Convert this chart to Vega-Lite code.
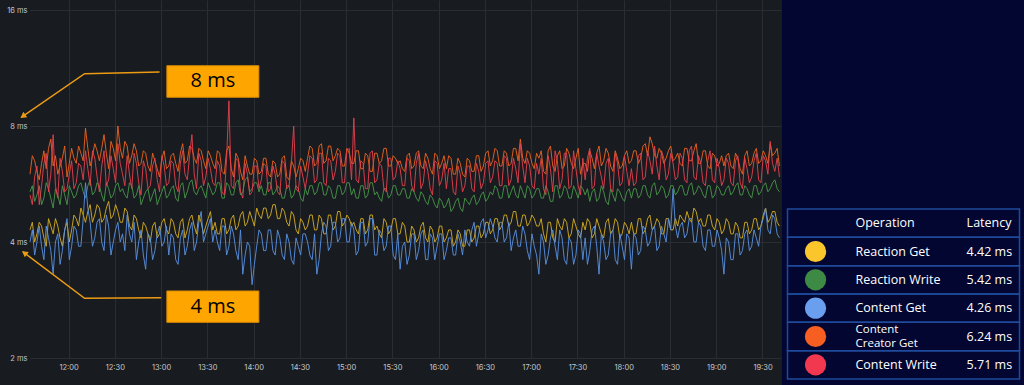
{
  "$schema": "https://vega.github.io/schema/vega-lite/v6.json",
  "padding": 0,
  "background": "#181b1f",
  "spacing": 0,
  "config": {"view": {"stroke": null}, "font": "Inter"},
  "resolve": {"scale": {"color": "independent"}},
  "hconcat": [
    {
      "width": 751,
      "height": 358,
      "layer": [
        {
          "data": {
            "values": [
              {"t":"1970-01-01T11:35Z","rg":4.3,"rw":5.4,"cg":4.0,"ccg":6.0,"cw":5.3},
              {"t":"1970-01-01T11:38Z","rg":4.0,"rw":5.1,"cg":3.7,"ccg":6.5,"cw":5.9},
              {"t":"1970-01-01T11:41Z","rg":4.5,"rw":5.6,"cg":4.4,"ccg":5.8,"cw":5.0},
              {"t":"1970-01-01T11:44Z","rg":4.1,"rw":5.2,"cg":3.6,"ccg":6.9,"cw":6.4},
              {"t":"1970-01-01T11:47Z","rg":4.6,"rw":5.5,"cg":4.1,"ccg":7.0,"cw":5.4},
              {"t":"1970-01-01T11:50Z","rg":4.2,"rw":4.9,"cg":3.3,"ccg":6.3,"cw":7.6},
              {"t":"1970-01-01T11:53Z","rg":4.4,"rw":5.3,"cg":4.2,"ccg":6.0,"cw":5.2},
              {"t":"1970-01-01T11:56Z","rg":3.9,"rw":5.6,"cg":3.8,"ccg":6.6,"cw":6.1},
              {"t":"1970-01-01T11:59Z","rg":4.5,"rw":5.0,"cg":4.6,"ccg":5.9,"cw":5.5},
              {"t":"1970-01-01T12:02Z","rg":4.3,"rw":5.4,"cg":3.9,"ccg":7.0,"cw":6.5},
              {"t":"1970-01-01T12:05Z","rg":4.6,"rw":5.3,"cg":4.3,"ccg":6.4,"cw":5.7},
              {"t":"1970-01-01T12:08Z","rg":4.9,"rw":5.7,"cg":3.9,"ccg":6.8,"cw":6.3},
              {"t":"1970-01-01T12:11Z","rg":4.5,"rw":5.2,"cg":5.7,"ccg":7.9,"cw":6.9},
              {"t":"1970-01-01T12:14Z","rg":5.0,"rw":5.8,"cg":4.5,"ccg":6.3,"cw":5.6},
              {"t":"1970-01-01T12:17Z","rg":4.7,"rw":5.4,"cg":4.1,"ccg":7.2,"cw":6.6},
              {"t":"1970-01-01T12:20Z","rg":4.9,"rw":5.6,"cg":4.6,"ccg":6.5,"cw":5.4},
              {"t":"1970-01-01T12:23Z","rg":4.6,"rw":5.1,"cg":3.8,"ccg":7.6,"cw":6.9},
              {"t":"1970-01-01T12:26Z","rg":5.1,"rw":5.5,"cg":4.4,"ccg":6.2,"cw":5.8},
              {"t":"1970-01-01T12:29Z","rg":4.7,"rw":5.3,"cg":4.0,"ccg":7.0,"cw":6.2},
              {"t":"1970-01-01T12:32Z","rg":4.8,"rw":5.7,"cg":4.5,"ccg":8.0,"cw":7.2},
              {"t":"1970-01-01T12:35Z","rg":4.5,"rw":5.5,"cg":4.2,"ccg":6.6,"cw":6.0},
              {"t":"1970-01-01T12:38Z","rg":4.8,"rw":5.2,"cg":4.7,"ccg":7.1,"cw":6.7},
              {"t":"1970-01-01T12:41Z","rg":4.3,"rw":5.6,"cg":4.0,"ccg":6.7,"cw":5.5},
              {"t":"1970-01-01T12:44Z","rg":4.6,"rw":5.3,"cg":3.6,"ccg":6.9,"cw":6.4},
              {"t":"1970-01-01T12:47Z","rg":4.1,"rw":5.0,"cg":4.3,"ccg":6.4,"cw":5.3},
              {"t":"1970-01-01T12:50Z","rg":4.4,"rw":5.4,"cg":3.4,"ccg":6.8,"cw":6.2},
              {"t":"1970-01-01T12:53Z","rg":4.0,"rw":5.1,"cg":4.1,"ccg":6.1,"cw":5.6},
              {"t":"1970-01-01T12:56Z","rg":4.5,"rw":5.5,"cg":3.8,"ccg":6.5,"cw":6.6},
              {"t":"1970-01-01T12:59Z","rg":4.2,"rw":5.2,"cg":4.4,"ccg":5.9,"cw":5.4},
              {"t":"1970-01-01T13:02Z","rg":4.6,"rw":5.6,"cg":4.0,"ccg":6.9,"cw":6.3},
              {"t":"1970-01-01T13:05Z","rg":4.2,"rw":5.3,"cg":3.7,"ccg":6.3,"cw":5.7},
              {"t":"1970-01-01T13:08Z","rg":4.5,"rw":5.6,"cg":4.1,"ccg":6.8,"cw":6.4},
              {"t":"1970-01-01T13:11Z","rg":4.1,"rw":5.1,"cg":3.5,"ccg":6.1,"cw":5.4},
              {"t":"1970-01-01T13:14Z","rg":4.6,"rw":5.7,"cg":4.3,"ccg":7.2,"cw":6.9},
              {"t":"1970-01-01T13:17Z","rg":4.3,"rw":5.4,"cg":3.9,"ccg":6.5,"cw":5.8},
              {"t":"1970-01-01T13:20Z","rg":4.7,"rw":5.8,"cg":4.5,"ccg":7.0,"cw":7.6},
              {"t":"1970-01-01T13:23Z","rg":4.2,"rw":5.3,"cg":4.0,"ccg":6.4,"cw":5.5},
              {"t":"1970-01-01T13:26Z","rg":4.5,"rw":5.6,"cg":4.8,"ccg":6.9,"cw":6.5},
              {"t":"1970-01-01T13:29Z","rg":4.4,"rw":5.2,"cg":4.2,"ccg":6.2,"cw":5.9},
              {"t":"1970-01-01T13:32Z","rg":4.8,"rw":5.5,"cg":4.6,"ccg":6.7,"cw":6.2},
              {"t":"1970-01-01T13:35Z","rg":4.5,"rw":5.4,"cg":4.3,"ccg":6.2,"cw":5.6},
              {"t":"1970-01-01T13:38Z","rg":4.2,"rw":5.7,"cg":3.8,"ccg":6.8,"cw":6.3},
              {"t":"1970-01-01T13:41Z","rg":4.6,"rw":5.2,"cg":4.4,"ccg":6.0,"cw":5.3},
              {"t":"1970-01-01T13:44Z","rg":4.3,"rw":5.6,"cg":3.9,"ccg":7.1,"cw":9.3},
              {"t":"1970-01-01T13:47Z","rg":4.7,"rw":5.3,"cg":4.2,"ccg":5.9,"cw":5.5},
              {"t":"1970-01-01T13:50Z","rg":4.4,"rw":5.8,"cg":3.6,"ccg":6.6,"cw":6.5},
              {"t":"1970-01-01T13:53Z","rg":4.8,"rw":5.4,"cg":3.3,"ccg":5.8,"cw":5.2},
              {"t":"1970-01-01T13:56Z","rg":4.5,"rw":5.9,"cg":4.0,"ccg":6.3,"cw":6.0},
              {"t":"1970-01-01T13:59Z","rg":4.6,"rw":5.5,"cg":3.1,"ccg":6.0,"cw":5.4},
              {"t":"1970-01-01T14:02Z","rg":4.9,"rw":5.7,"cg":3.9,"ccg":6.5,"cw":6.3},
              {"t":"1970-01-01T14:05Z","rg":4.6,"rw":5.6,"cg":4.2,"ccg":6.1,"cw":5.8},
              {"t":"1970-01-01T14:08Z","rg":4.9,"rw":5.3,"cg":3.8,"ccg":6.6,"cw":6.3},
              {"t":"1970-01-01T14:11Z","rg":4.7,"rw":5.7,"cg":4.3,"ccg":5.9,"cw":5.5},
              {"t":"1970-01-01T14:14Z","rg":5.0,"rw":5.4,"cg":3.7,"ccg":6.4,"cw":6.0},
              {"t":"1970-01-01T14:17Z","rg":4.6,"rw":5.5,"cg":4.1,"ccg":6.0,"cw":5.3},
              {"t":"1970-01-01T14:20Z","rg":4.8,"rw":5.2,"cg":3.6,"ccg":6.7,"cw":6.4},
              {"t":"1970-01-01T14:23Z","rg":4.4,"rw":5.6,"cg":4.0,"ccg":5.8,"cw":5.6},
              {"t":"1970-01-01T14:26Z","rg":4.7,"rw":5.3,"cg":3.5,"ccg":6.3,"cw":8.0},
              {"t":"1970-01-01T14:29Z","rg":4.2,"rw":5.5,"cg":3.9,"ccg":6.2,"cw":5.4},
              {"t":"1970-01-01T14:32Z","rg":4.5,"rw":5.1,"cg":4.2,"ccg":6.5,"cw":5.9},
              {"t":"1970-01-01T14:35Z","rg":4.4,"rw":5.3,"cg":4.0,"ccg":6.6,"cw":6.0},
              {"t":"1970-01-01T14:38Z","rg":4.7,"rw":5.6,"cg":3.6,"ccg":7.0,"cw":6.6},
              {"t":"1970-01-01T14:41Z","rg":4.3,"rw":5.4,"cg":3.3,"ccg":6.4,"cw":5.8},
              {"t":"1970-01-01T14:44Z","rg":4.6,"rw":5.7,"cg":4.2,"ccg":7.2,"cw":6.8},
              {"t":"1970-01-01T14:47Z","rg":4.2,"rw":5.3,"cg":4.4,"ccg":6.5,"cw":5.6},
              {"t":"1970-01-01T14:50Z","rg":4.7,"rw":5.5,"cg":3.9,"ccg":7.1,"cw":6.5},
              {"t":"1970-01-01T14:53Z","rg":4.4,"rw":5.2,"cg":4.5,"ccg":6.7,"cw":6.1},
              {"t":"1970-01-01T14:56Z","rg":4.8,"rw":5.6,"cg":4.1,"ccg":6.9,"cw":6.7},
              {"t":"1970-01-01T14:59Z","rg":4.5,"rw":5.4,"cg":4.6,"ccg":6.3,"cw":5.7},
              {"t":"1970-01-01T15:02Z","rg":4.6,"rw":5.7,"cg":4.0,"ccg":6.8,"cw":7.0},
              {"t":"1970-01-01T15:05Z","rg":4.5,"rw":5.5,"cg":4.3,"ccg":6.4,"cw":8.4},
              {"t":"1970-01-01T15:08Z","rg":4.2,"rw":5.2,"cg":3.8,"ccg":6.9,"cw":5.7},
              {"t":"1970-01-01T15:11Z","rg":4.6,"rw":5.6,"cg":4.5,"ccg":6.2,"cw":6.4},
              {"t":"1970-01-01T15:14Z","rg":4.3,"rw":5.3,"cg":4.0,"ccg":6.7,"cw":5.5},
              {"t":"1970-01-01T15:17Z","rg":4.7,"rw":5.7,"cg":4.6,"ccg":6.1,"cw":6.9},
              {"t":"1970-01-01T15:20Z","rg":4.4,"rw":5.4,"cg":3.7,"ccg":6.8,"cw":5.8},
              {"t":"1970-01-01T15:23Z","rg":4.1,"rw":5.1,"cg":4.2,"ccg":6.5,"cw":6.3},
              {"t":"1970-01-01T15:26Z","rg":4.5,"rw":5.5,"cg":3.9,"ccg":7.0,"cw":5.4},
              {"t":"1970-01-01T15:29Z","rg":4.3,"rw":5.3,"cg":4.4,"ccg":6.3,"cw":6.6},
              {"t":"1970-01-01T15:32Z","rg":4.6,"rw":5.6,"cg":3.6,"ccg":6.6,"cw":5.9},
              {"t":"1970-01-01T15:35Z","rg":4.2,"rw":5.3,"cg":3.4,"ccg":6.5,"cw":6.2},
              {"t":"1970-01-01T15:38Z","rg":4.4,"rw":5.5,"cg":4.0,"ccg":6.1,"cw":5.6},
              {"t":"1970-01-01T15:41Z","rg":4.0,"rw":5.2,"cg":3.7,"ccg":6.8,"cw":6.5},
              {"t":"1970-01-01T15:44Z","rg":4.3,"rw":5.4,"cg":4.2,"ccg":6.3,"cw":5.4},
              {"t":"1970-01-01T15:47Z","rg":4.1,"rw":5.1,"cg":3.8,"ccg":6.9,"cw":6.8},
              {"t":"1970-01-01T15:50Z","rg":4.5,"rw":5.3,"cg":4.3,"ccg":6.2,"cw":5.7},
              {"t":"1970-01-01T15:53Z","rg":4.0,"rw":5.0,"cg":3.6,"ccg":6.6,"cw":6.1},
              {"t":"1970-01-01T15:56Z","rg":4.3,"rw":5.2,"cg":4.1,"ccg":6.0,"cw":5.3},
              {"t":"1970-01-01T15:59Z","rg":4.1,"rw":4.9,"cg":3.9,"ccg":6.7,"cw":6.4},
              {"t":"1970-01-01T16:02Z","rg":4.4,"rw":5.1,"cg":4.2,"ccg":6.4,"cw":5.8},
              {"t":"1970-01-01T16:05Z","rg":4.1,"rw":5.0,"cg":3.8,"ccg":6.2,"cw":5.5},
              {"t":"1970-01-01T16:08Z","rg":4.3,"rw":4.8,"cg":4.1,"ccg":6.6,"cw":6.2},
              {"t":"1970-01-01T16:11Z","rg":4.0,"rw":5.1,"cg":3.7,"ccg":6.0,"cw":5.3},
              {"t":"1970-01-01T16:14Z","rg":4.2,"rw":4.9,"cg":4.0,"ccg":6.4,"cw":6.0},
              {"t":"1970-01-01T16:17Z","rg":3.9,"rw":5.2,"cg":4.3,"ccg":5.9,"cw":5.6},
              {"t":"1970-01-01T16:20Z","rg":4.3,"rw":5.0,"cg":3.9,"ccg":6.5,"cw":6.3},
              {"t":"1970-01-01T16:23Z","rg":4.1,"rw":5.3,"cg":4.5,"ccg":6.1,"cw":5.4},
              {"t":"1970-01-01T16:26Z","rg":4.4,"rw":5.1,"cg":4.2,"ccg":6.7,"cw":6.1},
              {"t":"1970-01-01T16:29Z","rg":4.2,"rw":5.4,"cg":4.6,"ccg":6.3,"cw":5.7},
              {"t":"1970-01-01T16:32Z","rg":4.5,"rw":5.2,"cg":4.3,"ccg":6.9,"cw":6.5},
              {"t":"1970-01-01T16:35Z","rg":4.3,"rw":5.3,"cg":4.4,"ccg":6.5,"cw":5.9},
              {"t":"1970-01-01T16:38Z","rg":4.6,"rw":5.5,"cg":4.0,"ccg":6.9,"cw":6.4},
              {"t":"1970-01-01T16:41Z","rg":4.4,"rw":5.2,"cg":4.5,"ccg":6.3,"cw":5.6},
              {"t":"1970-01-01T16:44Z","rg":4.7,"rw":5.6,"cg":4.1,"ccg":6.8,"cw":6.6},
              {"t":"1970-01-01T16:47Z","rg":4.5,"rw":5.4,"cg":3.8,"ccg":6.4,"cw":5.8},
              {"t":"1970-01-01T16:50Z","rg":4.8,"rw":5.3,"cg":4.3,"ccg":7.0,"cw":6.2},
              {"t":"1970-01-01T16:53Z","rg":4.4,"rw":5.6,"cg":3.9,"ccg":7.4,"cw":7.2},
              {"t":"1970-01-01T16:56Z","rg":4.7,"rw":5.2,"cg":4.2,"ccg":6.4,"cw":5.7},
              {"t":"1970-01-01T16:59Z","rg":4.5,"rw":5.5,"cg":3.6,"ccg":6.8,"cw":6.3},
              {"t":"1970-01-01T17:02Z","rg":4.6,"rw":5.3,"cg":3.9,"ccg":6.2,"cw":5.5},
              {"t":"1970-01-01T17:05Z","rg":4.4,"rw":5.5,"cg":3.3,"ccg":6.6,"cw":6.0},
              {"t":"1970-01-01T17:08Z","rg":4.2,"rw":5.2,"cg":4.0,"ccg":6.1,"cw":5.5},
              {"t":"1970-01-01T17:11Z","rg":4.5,"rw":5.4,"cg":3.7,"ccg":6.9,"cw":6.7},
              {"t":"1970-01-01T17:14Z","rg":4.1,"rw":5.1,"cg":4.3,"ccg":6.3,"cw":5.4},
              {"t":"1970-01-01T17:17Z","rg":4.6,"rw":5.6,"cg":3.6,"ccg":6.7,"cw":6.5},
              {"t":"1970-01-01T17:20Z","rg":4.3,"rw":5.3,"cg":4.1,"ccg":6.2,"cw":5.8},
              {"t":"1970-01-01T17:23Z","rg":4.5,"rw":5.5,"cg":3.5,"ccg":7.0,"cw":6.8},
              {"t":"1970-01-01T17:26Z","rg":4.2,"rw":5.2,"cg":4.0,"ccg":6.4,"cw":5.6},
              {"t":"1970-01-01T17:29Z","rg":4.4,"rw":5.4,"cg":3.7,"ccg":6.6,"cw":6.2},
              {"t":"1970-01-01T17:32Z","rg":4.1,"rw":5.6,"cg":4.2,"ccg":6.0,"cw":5.3},
              {"t":"1970-01-01T17:35Z","rg":4.3,"rw":5.3,"cg":4.1,"ccg":6.4,"cw":5.8},
              {"t":"1970-01-01T17:38Z","rg":4.5,"rw":5.1,"cg":3.8,"ccg":6.9,"cw":7.0},
              {"t":"1970-01-01T17:41Z","rg":4.2,"rw":5.5,"cg":4.4,"ccg":6.2,"cw":5.6},
              {"t":"1970-01-01T17:44Z","rg":4.4,"rw":5.2,"cg":3.3,"ccg":7.1,"cw":6.3},
              {"t":"1970-01-01T17:47Z","rg":4.1,"rw":5.4,"cg":4.0,"ccg":6.5,"cw":5.5},
              {"t":"1970-01-01T17:50Z","rg":4.6,"rw":5.0,"cg":3.7,"ccg":6.8,"cw":6.6},
              {"t":"1970-01-01T17:53Z","rg":4.3,"rw":5.3,"cg":4.3,"ccg":6.1,"cw":5.4},
              {"t":"1970-01-01T17:56Z","rg":4.5,"rw":5.5,"cg":3.5,"ccg":6.6,"cw":6.4},
              {"t":"1970-01-01T17:59Z","rg":4.2,"rw":5.2,"cg":3.9,"ccg":6.3,"cw":5.7},
              {"t":"1970-01-01T18:02Z","rg":4.4,"rw":5.4,"cg":4.2,"ccg":6.9,"cw":6.1},
              {"t":"1970-01-01T18:05Z","rg":4.5,"rw":5.2,"cg":3.4,"ccg":6.5,"cw":6.2},
              {"t":"1970-01-01T18:08Z","rg":4.2,"rw":5.5,"cg":4.1,"ccg":6.9,"cw":5.7},
              {"t":"1970-01-01T18:11Z","rg":4.6,"rw":5.3,"cg":3.8,"ccg":6.6,"cw":6.8},
              {"t":"1970-01-01T18:14Z","rg":4.3,"rw":5.6,"cg":4.3,"ccg":7.2,"cw":5.9},
              {"t":"1970-01-01T18:17Z","rg":4.7,"rw":5.2,"cg":4.0,"ccg":7.5,"cw":6.5},
              {"t":"1970-01-01T18:20Z","rg":4.4,"rw":5.7,"cg":4.4,"ccg":6.7,"cw":7.1},
              {"t":"1970-01-01T18:23Z","rg":4.5,"rw":5.4,"cg":3.9,"ccg":7.0,"cw":5.8},
              {"t":"1970-01-01T18:26Z","rg":4.2,"rw":5.5,"cg":4.2,"ccg":6.4,"cw":6.6},
              {"t":"1970-01-01T18:29Z","rg":4.6,"rw":5.3,"cg":4.6,"ccg":6.9,"cw":6.0},
              {"t":"1970-01-01T18:32Z","rg":4.3,"rw":5.6,"cg":5.5,"ccg":6.5,"cw":6.4},
              {"t":"1970-01-01T18:35Z","rg":4.4,"rw":5.4,"cg":4.1,"ccg":6.8,"cw":5.9},
              {"t":"1970-01-01T18:38Z","rg":4.6,"rw":5.6,"cg":4.5,"ccg":6.3,"cw":6.6},
              {"t":"1970-01-01T18:41Z","rg":4.8,"rw":5.3,"cg":4.2,"ccg":7.0,"cw":5.7},
              {"t":"1970-01-01T18:44Z","rg":4.5,"rw":5.7,"cg":4.6,"ccg":6.5,"cw":7.1},
              {"t":"1970-01-01T18:47Z","rg":4.8,"rw":5.4,"cg":4.0,"ccg":7.2,"cw":5.8},
              {"t":"1970-01-01T18:50Z","rg":4.6,"rw":5.5,"cg":4.4,"ccg":6.4,"cw":6.4},
              {"t":"1970-01-01T18:53Z","rg":4.4,"rw":5.2,"cg":3.8,"ccg":6.9,"cw":5.6},
              {"t":"1970-01-01T18:56Z","rg":4.7,"rw":5.6,"cg":4.3,"ccg":6.2,"cw":6.9},
              {"t":"1970-01-01T18:59Z","rg":4.3,"rw":5.3,"cg":3.9,"ccg":6.7,"cw":5.7},
              {"t":"1970-01-01T19:02Z","rg":4.5,"rw":5.5,"cg":4.1,"ccg":6.4,"cw":6.2},
              {"t":"1970-01-01T19:05Z","rg":4.3,"rw":5.3,"cg":3.3,"ccg":6.3,"cw":5.8},
              {"t":"1970-01-01T19:08Z","rg":4.5,"rw":5.6,"cg":4.0,"ccg":6.8,"cw":6.4},
              {"t":"1970-01-01T19:11Z","rg":4.2,"rw":5.4,"cg":3.6,"ccg":6.2,"cw":5.6},
              {"t":"1970-01-01T19:14Z","rg":4.4,"rw":5.7,"cg":4.2,"ccg":6.6,"cw":6.7},
              {"t":"1970-01-01T19:17Z","rg":4.1,"rw":5.3,"cg":3.8,"ccg":6.0,"cw":5.5},
              {"t":"1970-01-01T19:20Z","rg":4.5,"rw":5.5,"cg":4.3,"ccg":6.9,"cw":6.2},
              {"t":"1970-01-01T19:23Z","rg":4.3,"rw":5.2,"cg":3.9,"ccg":6.4,"cw":5.9},
              {"t":"1970-01-01T19:26Z","rg":4.6,"rw":5.6,"cg":4.1,"ccg":7.0,"cw":6.8},
              {"t":"1970-01-01T19:29Z","rg":4.4,"rw":5.4,"cg":4.4,"ccg":6.5,"cw":5.7},
              {"t":"1970-01-01T19:32Z","rg":4.9,"rw":5.7,"cg":4.9,"ccg":6.7,"cw":6.5},
              {"t":"1970-01-01T19:35Z","rg":4.6,"rw":5.5,"cg":4.2,"ccg":7.2,"cw":7.3},
              {"t":"1970-01-01T19:38Z","rg":4.8,"rw":5.8,"cg":4.6,"ccg":6.8,"cw":6.1},
              {"t":"1970-01-01T19:41Z","rg":4.4,"rw":5.4,"cg":4.1,"ccg":6.3,"cw":5.9},
              {"t":"1970-01-01T11:36:30Z","rg":4.5,"rw":5.6,"cg":4.3,"ccg":6.7,"cw":5.0},
              {"t":"1970-01-01T11:39:30Z","rg":4.2,"rw":5.3,"cg":4.0,"ccg":6.1,"cw":6.3},
              {"t":"1970-01-01T11:42:30Z","rg":4.4,"rw":5.0,"cg":3.9,"ccg":6.4,"cw":5.6},
              {"t":"1970-01-01T11:45:30Z","rg":3.9,"rw":5.7,"cg":4.4,"ccg":6.2,"cw":6.8},
              {"t":"1970-01-01T11:48:30Z","rg":4.4,"rw":5.2,"cg":3.8,"ccg":7.4,"cw":6.0},
              {"t":"1970-01-01T11:51:30Z","rg":4.6,"rw":5.5,"cg":4.0,"ccg":6.7,"cw":5.6},
              {"t":"1970-01-01T11:54:30Z","rg":4.1,"rw":5.0,"cg":3.5,"ccg":6.3,"cw":6.6},
              {"t":"1970-01-01T11:57:30Z","rg":4.3,"rw":5.3,"cg":4.3,"ccg":7.1,"cw":5.4},
              {"t":"1970-01-01T12:00:30Z","rg":4.0,"rw":5.6,"cg":3.6,"ccg":6.4,"cw":6.0},
              {"t":"1970-01-01T12:03:30Z","rg":4.7,"rw":5.2,"cg":4.4,"ccg":6.6,"cw":5.5},
              {"t":"1970-01-01T12:06:30Z","rg":4.4,"rw":5.6,"cg":3.9,"ccg":7.1,"cw":6.4},
              {"t":"1970-01-01T12:09:30Z","rg":4.7,"rw":5.4,"cg":4.6,"ccg":6.5,"cw":5.8},
              {"t":"1970-01-01T12:12:30Z","rg":4.8,"rw":5.6,"cg":4.9,"ccg":7.0,"cw":6.2},
              {"t":"1970-01-01T12:15:30Z","rg":4.5,"rw":5.3,"cg":3.9,"ccg":6.7,"cw":6.9},
              {"t":"1970-01-01T12:18:30Z","rg":5.0,"rw":5.7,"cg":4.5,"ccg":6.9,"cw":5.9},
              {"t":"1970-01-01T12:21:30Z","rg":4.5,"rw":5.3,"cg":4.0,"ccg":7.0,"cw":6.3},
              {"t":"1970-01-01T12:24:30Z","rg":4.9,"rw":5.7,"cg":4.7,"ccg":6.8,"cw":5.6},
              {"t":"1970-01-01T12:27:30Z","rg":4.6,"rw":5.2,"cg":3.7,"ccg":7.3,"cw":6.7},
              {"t":"1970-01-01T12:30:30Z","rg":5.0,"rw":5.6,"cg":4.3,"ccg":6.5,"cw":5.7},
              {"t":"1970-01-01T12:33:30Z","rg":4.5,"rw":5.4,"cg":4.0,"ccg":7.0,"cw":6.4},
              {"t":"1970-01-01T12:36:30Z","rg":4.9,"rw":5.3,"cg":3.8,"ccg":7.3,"cw":5.6},
              {"t":"1970-01-01T12:39:30Z","rg":4.4,"rw":5.7,"cg":4.2,"ccg":6.4,"cw":6.0},
              {"t":"1970-01-01T12:42:30Z","rg":4.7,"rw":5.2,"cg":4.5,"ccg":7.2,"cw":6.8},
              {"t":"1970-01-01T12:45:30Z","rg":4.3,"rw":5.6,"cg":4.0,"ccg":6.3,"cw":5.7},
              {"t":"1970-01-01T12:48:30Z","rg":4.5,"rw":5.2,"cg":3.7,"ccg":6.9,"cw":6.5},
              {"t":"1970-01-01T12:51:30Z","rg":4.2,"rw":5.5,"cg":4.2,"ccg":6.3,"cw":5.5},
              {"t":"1970-01-01T12:54:30Z","rg":4.4,"rw":5.3,"cg":3.6,"ccg":6.8,"cw":6.3},
              {"t":"1970-01-01T12:57:30Z","rg":4.1,"rw":5.0,"cg":4.2,"ccg":6.2,"cw":5.8},
              {"t":"1970-01-01T13:00:30Z","rg":4.5,"rw":5.4,"cg":3.9,"ccg":6.6,"cw":6.7},
              {"t":"1970-01-01T13:03:30Z","rg":4.3,"rw":5.2,"cg":4.4,"ccg":6.2,"cw":5.6},
              {"t":"1970-01-01T13:06:30Z","rg":4.6,"rw":5.5,"cg":4.2,"ccg":6.7,"cw":6.5},
              {"t":"1970-01-01T13:09:30Z","rg":4.2,"rw":5.2,"cg":3.6,"ccg":6.4,"cw":5.6},
              {"t":"1970-01-01T13:12:30Z","rg":4.5,"rw":5.6,"cg":4.1,"ccg":6.8,"cw":6.4},
              {"t":"1970-01-01T13:15:30Z","rg":4.1,"rw":5.2,"cg":3.7,"ccg":6.4,"cw":6.0},
              {"t":"1970-01-01T13:18:30Z","rg":4.6,"rw":5.7,"cg":4.3,"ccg":7.1,"cw":6.7},
              {"t":"1970-01-01T13:21:30Z","rg":4.4,"rw":5.4,"cg":3.8,"ccg":6.6,"cw":6.0},
              {"t":"1970-01-01T13:24:30Z","rg":4.7,"rw":5.5,"cg":4.5,"ccg":7.0,"cw":6.8},
              {"t":"1970-01-01T13:27:30Z","rg":4.2,"rw":5.4,"cg":4.0,"ccg":6.5,"cw":5.6},
              {"t":"1970-01-01T13:30:30Z","rg":4.6,"rw":5.7,"cg":4.4,"ccg":6.9,"cw":6.6},
              {"t":"1970-01-01T13:33:30Z","rg":4.3,"rw":5.3,"cg":4.0,"ccg":6.4,"cw":5.7},
              {"t":"1970-01-01T13:36:30Z","rg":4.2,"rw":5.7,"cg":4.0,"ccg":6.9,"cw":6.5},
              {"t":"1970-01-01T13:39:30Z","rg":4.6,"rw":5.2,"cg":4.4,"ccg":6.1,"cw":5.4},
              {"t":"1970-01-01T13:42:30Z","rg":4.2,"rw":5.7,"cg":3.7,"ccg":6.9,"cw":6.6},
              {"t":"1970-01-01T13:45:30Z","rg":4.6,"rw":5.3,"cg":4.4,"ccg":6.2,"cw":5.6},
              {"t":"1970-01-01T13:48:30Z","rg":4.3,"rw":5.7,"cg":3.8,"ccg":6.8,"cw":6.6},
              {"t":"1970-01-01T13:51:30Z","rg":4.7,"rw":5.3,"cg":4.3,"ccg":6.1,"cw":5.4},
              {"t":"1970-01-01T13:54:30Z","rg":4.4,"rw":5.8,"cg":3.7,"ccg":6.7,"cw":6.4},
              {"t":"1970-01-01T13:57:30Z","rg":4.8,"rw":5.4,"cg":3.9,"ccg":6.0,"cw":5.3},
              {"t":"1970-01-01T14:00:30Z","rg":4.4,"rw":5.7,"cg":3.5,"ccg":6.6,"cw":6.3},
              {"t":"1970-01-01T14:03:30Z","rg":4.7,"rw":5.4,"cg":4.3,"ccg":6.0,"cw":5.5},
              {"t":"1970-01-01T14:06:30Z","rg":4.9,"rw":5.3,"cg":3.8,"ccg":6.6,"cw":6.4},
              {"t":"1970-01-01T14:09:30Z","rg":4.6,"rw":5.7,"cg":4.3,"ccg":6.0,"cw":5.4},
              {"t":"1970-01-01T14:12:30Z","rg":5.0,"rw":5.3,"cg":3.8,"ccg":6.5,"cw":6.3},
              {"t":"1970-01-01T14:15:30Z","rg":4.6,"rw":5.6,"cg":4.3,"ccg":5.9,"cw":5.4},
              {"t":"1970-01-01T14:18:30Z","rg":4.9,"rw":5.2,"cg":3.7,"ccg":6.6,"cw":6.5},
              {"t":"1970-01-01T14:21:30Z","rg":4.5,"rw":5.6,"cg":4.2,"ccg":5.9,"cw":5.5},
              {"t":"1970-01-01T14:24:30Z","rg":4.8,"rw":5.2,"cg":3.6,"ccg":6.5,"cw":6.4},
              {"t":"1970-01-01T14:27:30Z","rg":4.3,"rw":5.6,"cg":4.1,"ccg":5.9,"cw":5.5},
              {"t":"1970-01-01T14:30:30Z","rg":4.6,"rw":5.2,"cg":3.7,"ccg":6.6,"cw":6.3},
              {"t":"1970-01-01T14:33:30Z","rg":4.3,"rw":5.5,"cg":4.2,"ccg":6.1,"cw":5.5},
              {"t":"1970-01-01T14:36:30Z","rg":4.7,"rw":5.6,"cg":3.7,"ccg":7.1,"cw":6.7},
              {"t":"1970-01-01T14:39:30Z","rg":4.3,"rw":5.3,"cg":4.2,"ccg":6.3,"cw":5.7},
              {"t":"1970-01-01T14:42:30Z","rg":4.7,"rw":5.7,"cg":3.6,"ccg":7.1,"cw":6.8},
              {"t":"1970-01-01T14:45:30Z","rg":4.2,"rw":5.3,"cg":4.5,"ccg":6.4,"cw":5.7},
              {"t":"1970-01-01T14:48:30Z","rg":4.7,"rw":5.6,"cg":3.8,"ccg":7.1,"cw":6.6},
              {"t":"1970-01-01T14:51:30Z","rg":4.3,"rw":5.2,"cg":4.5,"ccg":6.5,"cw":5.8},
              {"t":"1970-01-01T14:54:30Z","rg":4.8,"rw":5.6,"cg":4.0,"ccg":7.0,"cw":6.8},
              {"t":"1970-01-01T14:57:30Z","rg":4.4,"rw":5.3,"cg":4.6,"ccg":6.3,"cw":5.7},
              {"t":"1970-01-01T15:00:30Z","rg":4.7,"rw":5.7,"cg":4.0,"ccg":7.0,"cw":6.9},
              {"t":"1970-01-01T15:03:30Z","rg":4.4,"rw":5.3,"cg":4.5,"ccg":6.4,"cw":5.8},
              {"t":"1970-01-01T15:06:30Z","rg":4.3,"rw":5.2,"cg":3.7,"ccg":6.9,"cw":5.8},
              {"t":"1970-01-01T15:09:30Z","rg":4.6,"rw":5.6,"cg":4.5,"ccg":6.2,"cw":6.5},
              {"t":"1970-01-01T15:12:30Z","rg":4.2,"rw":5.2,"cg":3.9,"ccg":6.8,"cw":5.5},
              {"t":"1970-01-01T15:15:30Z","rg":4.7,"rw":5.7,"cg":4.6,"ccg":6.1,"cw":6.8},
              {"t":"1970-01-01T15:18:30Z","rg":4.3,"rw":5.3,"cg":3.7,"ccg":6.8,"cw":5.7},
              {"t":"1970-01-01T15:21:30Z","rg":4.2,"rw":5.2,"cg":4.3,"ccg":6.4,"cw":6.4},
              {"t":"1970-01-01T15:24:30Z","rg":4.6,"rw":5.5,"cg":3.8,"ccg":7.0,"cw":5.5},
              {"t":"1970-01-01T15:27:30Z","rg":4.2,"rw":5.2,"cg":4.4,"ccg":6.3,"cw":6.6},
              {"t":"1970-01-01T15:30:30Z","rg":4.6,"rw":5.6,"cg":3.7,"ccg":6.7,"cw":5.8},
              {"t":"1970-01-01T15:33:30Z","rg":4.2,"rw":5.3,"cg":4.2,"ccg":6.4,"cw":6.5},
              {"t":"1970-01-01T15:36:30Z","rg":4.5,"rw":5.5,"cg":3.9,"ccg":6.2,"cw":5.6},
              {"t":"1970-01-01T15:39:30Z","rg":4.0,"rw":5.2,"cg":3.5,"ccg":6.7,"cw":6.6},
              {"t":"1970-01-01T15:42:30Z","rg":4.4,"rw":5.5,"cg":4.2,"ccg":6.2,"cw":5.6},
              {"t":"1970-01-01T15:45:30Z","rg":4.0,"rw":5.2,"cg":3.6,"ccg":6.8,"cw":6.4},
              {"t":"1970-01-01T15:48:30Z","rg":4.4,"rw":5.4,"cg":4.2,"ccg":6.3,"cw":5.5},
              {"t":"1970-01-01T15:51:30Z","rg":4.1,"rw":5.1,"cg":3.6,"ccg":6.8,"cw":6.5},
              {"t":"1970-01-01T15:54:30Z","rg":4.4,"rw":5.3,"cg":4.2,"ccg":6.2,"cw":5.5},
              {"t":"1970-01-01T15:57:30Z","rg":4.0,"rw":5.0,"cg":3.6,"ccg":6.8,"cw":6.5},
              {"t":"1970-01-01T16:00:30Z","rg":4.4,"rw":5.2,"cg":4.2,"ccg":6.2,"cw":5.6},
              {"t":"1970-01-01T16:03:30Z","rg":4.0,"rw":4.9,"cg":3.6,"ccg":6.7,"cw":6.4},
              {"t":"1970-01-01T16:06:30Z","rg":4.3,"rw":5.2,"cg":4.1,"ccg":6.7,"cw":6.2},
              {"t":"1970-01-01T16:09:30Z","rg":3.9,"rw":4.9,"cg":3.7,"ccg":6.0,"cw":5.4},
              {"t":"1970-01-01T16:12:30Z","rg":4.3,"rw":5.2,"cg":4.2,"ccg":6.6,"cw":6.3},
              {"t":"1970-01-01T16:15:30Z","rg":3.9,"rw":4.8,"cg":3.7,"ccg":6.0,"cw":5.4},
              {"t":"1970-01-01T16:18:30Z","rg":4.3,"rw":5.1,"cg":4.0,"ccg":6.6,"cw":6.3},
              {"t":"1970-01-01T16:21:30Z","rg":4.0,"rw":5.2,"cg":4.3,"ccg":6.1,"cw":5.5},
              {"t":"1970-01-01T16:24:30Z","rg":4.4,"rw":5.0,"cg":3.9,"ccg":6.7,"cw":6.4},
              {"t":"1970-01-01T16:27:30Z","rg":4.1,"rw":5.3,"cg":4.5,"ccg":6.1,"cw":5.5},
              {"t":"1970-01-01T16:30:30Z","rg":4.5,"rw":5.1,"cg":4.1,"ccg":6.8,"cw":6.4},
              {"t":"1970-01-01T16:33:30Z","rg":4.2,"rw":5.4,"cg":4.6,"ccg":6.3,"cw":5.7},
              {"t":"1970-01-01T16:36:30Z","rg":4.6,"rw":5.6,"cg":4.1,"ccg":7.0,"cw":6.5},
              {"t":"1970-01-01T16:39:30Z","rg":4.3,"rw":5.2,"cg":4.5,"ccg":6.3,"cw":5.6},
              {"t":"1970-01-01T16:42:30Z","rg":4.7,"rw":5.6,"cg":4.0,"ccg":6.9,"cw":6.7},
              {"t":"1970-01-01T16:45:30Z","rg":4.4,"rw":5.2,"cg":4.5,"ccg":6.3,"cw":5.6},
              {"t":"1970-01-01T16:48:30Z","rg":4.8,"rw":5.6,"cg":4.1,"ccg":7.0,"cw":6.6},
              {"t":"1970-01-01T16:51:30Z","rg":4.4,"rw":5.2,"cg":3.9,"ccg":6.5,"cw":5.7},
              {"t":"1970-01-01T16:54:30Z","rg":4.7,"rw":5.4,"cg":4.4,"ccg":6.6,"cw":6.3},
              {"t":"1970-01-01T16:57:30Z","rg":4.4,"rw":5.6,"cg":3.8,"ccg":6.9,"cw":6.6},
              {"t":"1970-01-01T17:00:30Z","rg":4.7,"rw":5.2,"cg":4.2,"ccg":6.4,"cw":5.6},
              {"t":"1970-01-01T17:03:30Z","rg":4.4,"rw":5.5,"cg":3.7,"ccg":6.8,"cw":6.4},
              {"t":"1970-01-01T17:06:30Z","rg":4.6,"rw":5.2,"cg":4.2,"ccg":6.9,"cw":6.6},
              {"t":"1970-01-01T17:09:30Z","rg":4.0,"rw":5.6,"cg":3.5,"ccg":6.0,"cw":5.3},
              {"t":"1970-01-01T17:12:30Z","rg":4.5,"rw":5.1,"cg":4.1,"ccg":7.1,"cw":6.2},
              {"t":"1970-01-01T17:15:30Z","rg":4.0,"rw":5.6,"cg":3.9,"ccg":6.1,"cw":6.9},
              {"t":"1970-01-01T17:18:30Z","rg":4.4,"rw":5.2,"cg":4.3,"ccg":6.9,"cw":5.5},
              {"t":"1970-01-01T17:21:30Z","rg":4.6,"rw":5.6,"cg":3.6,"ccg":6.3,"cw":6.8},
              {"t":"1970-01-01T17:24:30Z","rg":4.1,"rw":5.2,"cg":4.1,"ccg":6.8,"cw":5.5},
              {"t":"1970-01-01T17:27:30Z","rg":4.6,"rw":5.6,"cg":3.5,"ccg":6.2,"cw":6.9},
              {"t":"1970-01-01T17:30:30Z","rg":4.2,"rw":5.2,"cg":4.3,"ccg":7.0,"cw":5.6},
              {"t":"1970-01-01T17:33:30Z","rg":4.5,"rw":5.5,"cg":3.6,"ccg":6.4,"cw":6.6},
              {"t":"1970-01-01T17:36:30Z","rg":4.6,"rw":5.5,"cg":3.5,"ccg":6.1,"cw":6.6},
              {"t":"1970-01-01T17:39:30Z","rg":4.1,"rw":5.4,"cg":4.3,"ccg":6.6,"cw":5.5},
              {"t":"1970-01-01T17:42:30Z","rg":4.6,"rw":5.1,"cg":3.9,"ccg":6.8,"cw":6.8},
              {"t":"1970-01-01T17:45:30Z","rg":4.2,"rw":5.6,"cg":4.2,"ccg":6.3,"cw":5.9},
              {"t":"1970-01-01T17:48:30Z","rg":4.5,"rw":5.1,"cg":3.6,"ccg":7.0,"cw":6.4},
              {"t":"1970-01-01T17:51:30Z","rg":4.2,"rw":5.5,"cg":4.2,"ccg":6.3,"cw":5.5},
              {"t":"1970-01-01T17:54:30Z","rg":4.6,"rw":5.1,"cg":3.6,"ccg":6.9,"cw":6.8},
              {"t":"1970-01-01T17:57:30Z","rg":4.1,"rw":5.4,"cg":4.2,"ccg":6.2,"cw":5.6},
              {"t":"1970-01-01T18:00:30Z","rg":4.5,"rw":5.1,"cg":3.6,"ccg":6.7,"cw":6.7},
              {"t":"1970-01-01T18:03:30Z","rg":4.2,"rw":5.5,"cg":4.1,"ccg":6.4,"cw":5.6},
              {"t":"1970-01-01T18:06:30Z","rg":4.2,"rw":5.5,"cg":4.2,"ccg":6.9,"cw":5.6},
              {"t":"1970-01-01T18:09:30Z","rg":4.6,"rw":5.2,"cg":3.7,"ccg":6.4,"cw":6.7},
              {"t":"1970-01-01T18:12:30Z","rg":4.2,"rw":5.6,"cg":4.4,"ccg":7.1,"cw":5.8},
              {"t":"1970-01-01T18:15:30Z","rg":4.6,"rw":5.3,"cg":3.9,"ccg":6.7,"cw":6.9},
              {"t":"1970-01-01T18:18:30Z","rg":4.3,"rw":5.6,"cg":4.3,"ccg":7.2,"cw":6.0},
              {"t":"1970-01-01T18:21:30Z","rg":4.6,"rw":5.3,"cg":3.8,"ccg":6.6,"cw":6.3},
              {"t":"1970-01-01T18:24:30Z","rg":4.2,"rw":5.6,"cg":4.4,"ccg":6.8,"cw":6.9},
              {"t":"1970-01-01T18:27:30Z","rg":4.6,"rw":5.2,"cg":4.0,"ccg":6.6,"cw":5.8},
              {"t":"1970-01-01T18:30:30Z","rg":4.3,"rw":5.6,"cg":4.3,"ccg":7.1,"cw":6.8},
              {"t":"1970-01-01T18:33:30Z","rg":4.6,"rw":5.3,"cg":4.4,"ccg":6.6,"cw":5.8},
              {"t":"1970-01-01T18:36:30Z","rg":4.7,"rw":5.6,"cg":4.4,"ccg":6.4,"cw":6.8},
              {"t":"1970-01-01T18:39:30Z","rg":4.5,"rw":5.3,"cg":4.1,"ccg":7.0,"cw":5.8},
              {"t":"1970-01-01T18:42:30Z","rg":4.6,"rw":5.6,"cg":4.6,"ccg":6.5,"cw":6.9},
              {"t":"1970-01-01T18:45:30Z","rg":4.9,"rw":5.3,"cg":4.0,"ccg":6.9,"cw":5.9},
              {"t":"1970-01-01T18:48:30Z","rg":4.5,"rw":5.6,"cg":4.5,"ccg":6.4,"cw":6.7},
              {"t":"1970-01-01T18:51:30Z","rg":4.4,"rw":5.3,"cg":3.9,"ccg":6.9,"cw":5.7},
              {"t":"1970-01-01T18:54:30Z","rg":4.7,"rw":5.6,"cg":4.3,"ccg":6.3,"cw":6.5},
              {"t":"1970-01-01T18:57:30Z","rg":4.4,"rw":5.2,"cg":3.9,"ccg":6.8,"cw":5.8},
              {"t":"1970-01-01T19:00:30Z","rg":4.6,"rw":5.6,"cg":4.3,"ccg":6.3,"cw":6.6},
              {"t":"1970-01-01T19:03:30Z","rg":4.2,"rw":5.3,"cg":3.8,"ccg":6.7,"cw":5.6},
              {"t":"1970-01-01T19:06:30Z","rg":4.6,"rw":5.5,"cg":4.1,"ccg":6.7,"cw":6.6},
              {"t":"1970-01-01T19:09:30Z","rg":4.2,"rw":5.3,"cg":3.6,"ccg":6.3,"cw":5.7},
              {"t":"1970-01-01T19:12:30Z","rg":4.5,"rw":5.6,"cg":4.2,"ccg":6.8,"cw":6.5},
              {"t":"1970-01-01T19:15:30Z","rg":4.1,"rw":5.3,"cg":3.7,"ccg":6.2,"cw":5.7},
              {"t":"1970-01-01T19:18:30Z","rg":4.5,"rw":5.6,"cg":4.2,"ccg":6.7,"cw":6.6},
              {"t":"1970-01-01T19:21:30Z","rg":4.2,"rw":5.3,"cg":3.8,"ccg":6.3,"cw":5.7},
              {"t":"1970-01-01T19:24:30Z","rg":4.6,"rw":5.6,"cg":4.3,"ccg":6.8,"cw":6.5},
              {"t":"1970-01-01T19:27:30Z","rg":4.3,"rw":5.3,"cg":3.9,"ccg":6.4,"cw":5.8},
              {"t":"1970-01-01T19:30:30Z","rg":4.7,"rw":5.6,"cg":4.6,"ccg":6.9,"cw":6.7},
              {"t":"1970-01-01T19:33:30Z","rg":4.5,"rw":5.4,"cg":4.3,"ccg":6.4,"cw":6.0},
              {"t":"1970-01-01T19:36:30Z","rg":4.8,"rw":5.7,"cg":4.7,"ccg":6.7,"cw":6.4},
              {"t":"1970-01-01T19:39:30Z","rg":4.5,"rw":5.5,"cg":4.2,"ccg":7.0,"cw":6.6}
            ]
          },
          "transform": [{"fold": ["rg", "rw", "cg", "ccg", "cw"], "as": ["k", "v"]}],
          "mark": {"type": "line", "strokeWidth": 1, "opacity": 0.9},
          "encoding": {
            "x": {
              "field": "t", "type": "temporal",
              "scale": {"type": "utc", "nice": false, "domain": [41700000, 70920000]},
              "axis": {
                "title": null, "format": "%H:%M",
                "values": [43200000, 45000000, 46800000, 48600000, 50400000, 52200000, 54000000, 55800000, 57600000, 59400000, 61200000, 63000000, 64800000, 66600000, 68400000, 70200000],
                "grid": true, "gridColor": "#2a2d33", "domain": false, "ticks": false,
                "labelColor": "#c3c6cc", "labelFontSize": 7.5, "labelPadding": 5,
                "labelFlush": false, "minExtent": 27, "maxExtent": 27
              }
            },
            "y": {
              "field": "v", "type": "quantitative",
              "scale": {"type": "log", "domain": [2, 16.99], "nice": false},
              "axis": {
                "title": null, "values": [2, 4, 8, 16], "labelExpr": "datum.value + ' ms'",
                "grid": true, "gridColor": "#2a2d33", "domain": false, "ticks": false,
                "labelColor": "#c3c6cc", "labelFontSize": 7.5, "labelPadding": 3,
                "minExtent": 30, "maxExtent": 30
              }
            },
            "color": {
              "field": "k", "type": "nominal",
              "scale": {"domain": ["rg", "rw", "cg", "ccg", "cw"], "range": ["#d6ae22", "#47984a", "#5a92e6", "#f0641e", "#e8404f"]},
              "legend": null
            }
          }
        },
        {
          "data": {
            "values": [
              {"g": "a8", "o": 1, "t": "1970-01-01T12:59:00Z", "v": 11.05},
              {"g": "a8", "o": 2, "t": "1970-01-01T12:10:24Z", "v": 10.94},
              {"g": "a8", "o": 3, "t": "1970-01-01T11:29:18Z", "v": 8.43},
              {"g": "a4", "o": 1, "t": "1970-01-01T13:00:06Z", "v": 2.868},
              {"g": "a4", "o": 2, "t": "1970-01-01T12:10:24Z", "v": 2.857},
              {"g": "a4", "o": 3, "t": "1970-01-01T11:30:18Z", "v": 3.775}
            ]
          },
          "mark": {"type": "line", "color": "#eb9b14", "strokeWidth": 1.5, "clip": false},
          "encoding": {
            "x": {"field": "t", "type": "temporal"},
            "y": {"field": "v", "type": "quantitative"},
            "detail": {"field": "g", "type": "nominal"},
            "order": {"field": "o", "type": "quantitative"}
          }
        },
        {
          "data": {"values": [{"g": "a8", "t": "1970-01-01T11:30:54Z", "v": 8.51}]},
          "mark": {"type": "point", "shape": "triangle", "filled": true, "color": "#eb9b14", "opacity": 1, "size": 45, "angle": 235, "clip": false},
          "encoding": {
            "x": {"field": "t", "type": "temporal"},
            "y": {"field": "v", "type": "quantitative"}
          }
        },
        {
          "data": {"values": [{"g": "a4", "t": "1970-01-01T11:31:54Z", "v": 3.734}]},
          "mark": {"type": "point", "shape": "triangle", "filled": true, "color": "#eb9b14", "opacity": 1, "size": 45, "angle": 307, "clip": false},
          "encoding": {
            "x": {"field": "t", "type": "temporal"},
            "y": {"field": "v", "type": "quantitative"}
          }
        },
        {
          "data": {
            "values": [
              {"t1": "1970-01-01T13:03:45Z", "t2": "1970-01-01T14:03:24Z", "v1": 9.5, "v2": 11.47, "tc": "1970-01-01T13:33:36Z", "vc": 10.44, "label": "8 ms"},
              {"t1": "1970-01-01T13:03:45Z", "t2": "1970-01-01T14:03:24Z", "v1": 2.475, "v2": 2.985, "tc": "1970-01-01T13:33:36Z", "vc": 2.717, "label": "4 ms"}
            ]
          },
          "layer": [
            {
              "mark": {"type": "rect", "fill": "#ffa500", "stroke": "#d98b00", "strokeWidth": 1, "clip": false},
              "encoding": {
                "x": {"field": "t1", "type": "temporal"},
                "x2": {"field": "t2"},
                "y": {"field": "v1", "type": "quantitative"},
                "y2": {"field": "v2"}
              }
            },
            {
              "mark": {"type": "text", "fontSize": 20, "color": "#000000", "font": "Open Sans", "align": "center", "baseline": "middle", "clip": false},
              "encoding": {
                "x": {"field": "tc", "type": "temporal"},
                "y": {"field": "vc", "type": "quantitative"},
                "text": {"field": "label", "type": "nominal"}
              }
            }
          ]
        }
      ]
    },
    {
      "width": 243,
      "height": 385,
      "view": {"fill": "#020630", "stroke": null},
      "data": {
        "values": [
          {"row": "h", "op": "Operation", "lat": "Latency"},
          {"row": "rg", "op": "Reaction Get", "lat": "4.42 ms"},
          {"row": "rw", "op": "Reaction Write", "lat": "5.42 ms"},
          {"row": "cg", "op": "Content Get", "lat": "4.26 ms"},
          {"row": "ccg", "op": "Content\nCreator Get", "lat": "6.24 ms"},
          {"row": "cw", "op": "Content Write", "lat": "5.71 ms"}
        ]
      },
      "encoding": {
        "y": {
          "field": "row", "type": "nominal",
          "scale": {"domain": ["h", "rg", "rw", "cg", "ccg", "cw"], "paddingInner": 0, "paddingOuter": 0, "range": [209, 379]},
          "axis": null
        }
      },
      "layer": [
        {
          "mark": {"type": "rect", "fillOpacity": 0, "fill": "#020630", "stroke": "#1e4b9b", "strokeWidth": 1.5},
          "encoding": {
            "x": {"datum": 0, "type": "quantitative", "scale": {"domain": [0, 1], "padding": 5.5, "nice": false, "zero": false}, "axis": null},
            "x2": {"datum": 1}
          }
        },
        {
          "transform": [{"filter": "datum.row != 'h'"}],
          "mark": {"type": "point", "shape": "circle", "filled": true, "opacity": 1, "size": 450},
          "encoding": {
            "x": {"datum": 0.121, "type": "quantitative"},
            "color": {
              "field": "row", "type": "nominal",
              "scale": {"domain": ["rg", "rw", "cg", "ccg", "cw"], "range": ["#fbc52c", "#3d8a45", "#6a9eef", "#f75e21", "#f2384e"]},
              "legend": null
            }
          }
        },
        {
          "transform": [{"filter": "datum.row != 'ccg'"}],
          "mark": {"type": "text", "align": "left", "baseline": "middle", "color": "#ffffff", "fontSize": 12.5, "font": "Open Sans"},
          "encoding": {
            "x": {"datum": 0.293, "type": "quantitative"},
            "text": {"field": "op", "type": "nominal"}
          }
        },
        {
          "transform": [{"filter": "datum.row == 'ccg'"}],
          "mark": {"type": "text", "align": "left", "baseline": "middle", "color": "#ffffff", "fontSize": 11.5, "font": "Open Sans", "lineBreak": "\n", "lineHeight": 14, "dy": -7},
          "encoding": {
            "x": {"datum": 0.293, "type": "quantitative"},
            "text": {"field": "op", "type": "nominal"}
          }
        },
        {
          "mark": {"type": "text", "align": "left", "baseline": "middle", "color": "#ffffff", "fontSize": 12.5, "font": "Open Sans"},
          "encoding": {
            "x": {"datum": 0.772, "type": "quantitative"},
            "text": {"field": "lat", "type": "nominal"}
          }
        }
      ]
    }
  ]
}
